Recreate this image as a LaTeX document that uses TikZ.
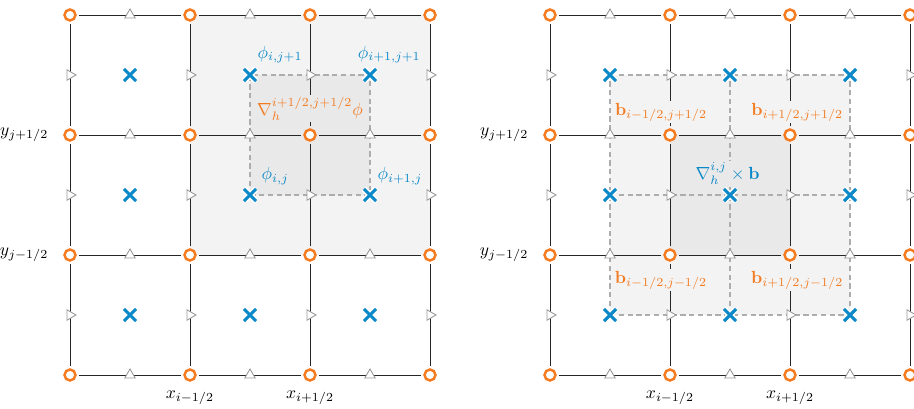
\documentclass[tikz,border=0pt]{standalone}
\usepackage{amsmath,amssymb,bm}
\usepackage{xcolor}
\usetikzlibrary{shapes.geometric,shapes.misc}

\definecolor{vtxorange}{HTML}{F47B20}
\definecolor{ctrblue}{HTML}{0B88C8}
\definecolor{shadelight}{HTML}{F3F3F3}
\definecolor{shadedark}{HTML}{E9E9E9}

\pgfdeclarelayer{background}
\pgfsetlayers{background,main}

\tikzset{
  vtx/.style={circle,draw=vtxorange,fill=white,line width=1.4pt,minimum size=0.22cm,inner sep=0pt,outer sep=1.8pt},
  ctr/.style={cross out,draw=ctrblue,line width=1.8pt,minimum size=0.18cm,inner sep=0pt,
    preaction={draw=white,line width=3.6pt}},
  facex/.style={regular polygon,regular polygon sides=3,draw=black!40,fill=white,line width=0.5pt,minimum size=0.24cm,inner sep=0pt},
  facey/.style={facex,shape border rotate=-90},
  gridline/.style={black!85,line width=0.55pt},
  dashline/.style={black!32,dash pattern=on 3pt off 2pt,line width=0.6pt},
  philab/.style={text=ctrblue,inner sep=1pt},
  blab/.style={text=vtxorange,inner sep=1pt},
}

\begin{document}
\begin{tikzpicture}[x=2.4cm,y=2.4cm]
\useasboundingbox (-0.5833,-0.275) rectangle (7.0333,3.125);

% vertices, edge points and cell centres of both grids
\foreach \p/\ox in {L/0,R/4} {
  \foreach \i in {0,...,3} \foreach \j in {0,...,3}
    \node[vtx] (\p-\i-\j) at (\ox+\i,\j) {};
  \foreach \i in {0,1,2} \foreach \j in {0,...,3} {
    \node[facex] (\p-fx-\i-\j) at (\ox+\i+0.5,\j) {};
    \node[facey] (\p-fy-\j-\i) at (\ox+\j,\i+0.5) {};
  }
  \foreach \i in {0,1,2} \foreach \j in {0,1,2}
    \node[ctr] (\p-c-\i-\j) at (\ox+\i+0.5,\j+0.5) {};
  % axis labels
  \node[anchor=east] (\p-yp) at (\ox-0.13,2) {$y_{j+1/2}$};
  \node[anchor=east] (\p-ym) at (\ox-0.13,1) {$y_{j-1/2}$};
  \node (\p-xm) at (\ox+1,-0.19) {$x_{i-1/2}$};
  \node (\p-xp) at (\ox+2,-0.19) {$x_{i+1/2}$};
}

% left: gradient of phi
\node[philab,fill=shadelight] (phi01) at (1.75,2.67) {$\phi_{i,j+1}$};
\node[philab,fill=shadelight] (phi11) at (2.66,2.67) {$\phi_{i+1,j+1}$};
\node[philab,fill=shadedark] (phi00) at (1.71,1.66) {$\phi_{i,j}$};
\node[philab,fill=shadelight] (phi10) at (2.75,1.66) {$\phi_{i+1,j}$};
\node[blab,fill=shadedark] (gradphi) at (2.0,2.22) {$\nabla_h^{i+1/2,j+1/2}\phi$};

% right: curl of b
\node[blab,fill=shadelight] (b01) at (4.925,2.19) {$\mathbf{b}_{i-1/2,j+1/2}$};
\node[blab,fill=shadelight] (b11) at (6.06,2.19) {$\mathbf{b}_{i+1/2,j+1/2}$};
\node[blab,fill=shadelight] (b00) at (4.925,0.79) {$\mathbf{b}_{i-1/2,j-1/2}$};
\node[blab,fill=shadelight] (b10) at (6.06,0.79) {$\mathbf{b}_{i+1/2,j-1/2}$};
\node[philab,fill=shadedark] (curlb) at (5.48,1.68) {$\nabla_h^{i,j}\times\mathbf{b}$};

\begin{pgfonlayer}{background}
\fill[shadelight] (L-1-1.center) rectangle (L-3-3.center);
\fill[shadedark] (L-c-1-1.center) rectangle (L-c-2-2.center);
\draw[dashline] (L-c-1-1.center) rectangle (L-c-2-2.center);
\fill[shadelight] (R-c-0-0.center) rectangle (R-c-2-2.center);
\fill[shadedark] (R-1-1.center) rectangle (R-2-2.center);
\foreach \k in {0,1,2} {
  \draw[dashline] (R-c-\k-0.center) -- (R-c-\k-2.center);
  \draw[dashline] (R-c-0-\k.center) -- (R-c-2-\k.center);
}
\foreach \p in {L,R}
  \foreach \i in {0,...,3} \foreach \j/\jn in {0/1,1/2,2/3} {
    \draw[gridline] (\p-\i-\j) -- (\p-\i-\jn);
    \draw[gridline] (\p-\j-\i) -- (\p-\jn-\i);
  }
\end{pgfonlayer}
\end{tikzpicture}
\end{document}
